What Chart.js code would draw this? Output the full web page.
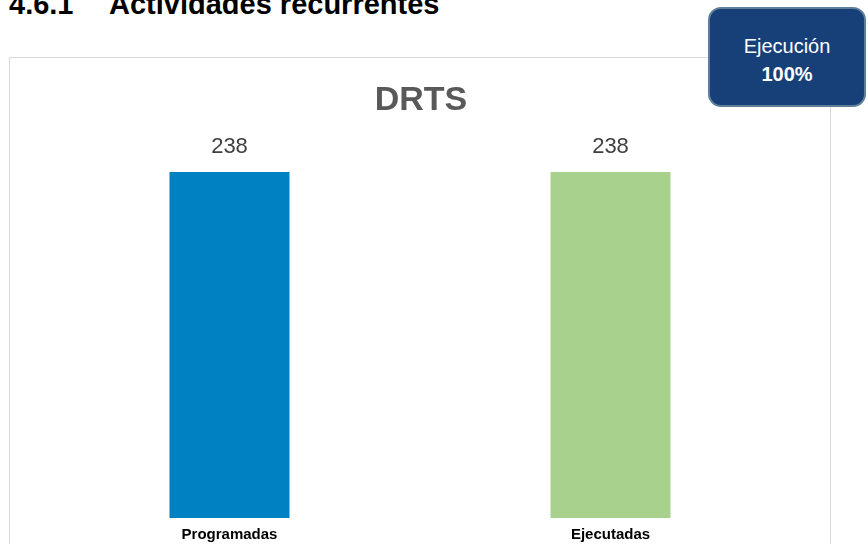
<!DOCTYPE html>
<html>
<head>
<meta charset="utf-8">
<script src="https://cdn.jsdelivr.net/npm/chart.js@4"></script>
<style>
  body { margin:0; background:#fff; width:868px; height:544px; overflow:hidden; position:relative; font-family:"Liberation Sans", Arial, sans-serif; }
  .heading { position:absolute; top:-12px; font-size:29px; font-weight:bold; color:#000; white-space:pre; }
  #box { position:absolute; left:9px; top:57px; width:820px; height:520px; border:1px solid #d9d9d9; }
  #badge { position:absolute; left:708px; top:7px; width:158px; height:100px; background:#173f78; border:2px solid #5d7f99; border-radius:13px; color:#fff; text-align:center; font-size:20px; line-height:28px; box-sizing:border-box; padding-top:23px; }
</style>
</head>
<body>
<div class="heading" style="left:9px">4.6.1</div>
<div class="heading" style="left:109px">Actividades recurrentes</div>
<div id="box"><canvas id="barcanva" width="820" height="520"></canvas></div>
<div id="badge">Ejecución<br><b>100%</b></div>
<script>
const categories = ["Programadas", "Ejecutadas"]
const values = [238, 238]
const colors = ["#0081c1", "#a9d18e"]

const labelsPlugin = {
    id: "labelsPlugin",
    afterDatasetsDraw(chart) {
        const ctx = chart.ctx
        ctx.save()
        // titre
        ctx.fillStyle = "#595959"
        ctx.font = "bold 34px 'Liberation Sans', Arial"
        ctx.textAlign = "center"
        ctx.textBaseline = "middle"
        ctx.fillText("DRTS", 411, 43)
        // valeurs au-dessus des barres
        ctx.fillStyle = "#404040"
        ctx.font = "22px 'Liberation Sans', Arial"
        chart.getDatasetMeta(0).data.forEach((bar, i) => {
            ctx.fillText(values[i], bar.x, bar.y - 25)
        })
        ctx.restore()
    }
}

const canva = document.querySelector("#barcanva")
const barChart = new Chart(canva, {
    type: "bar",
    data: {
        labels: categories,
        datasets: [{
            data: values,
            backgroundColor: colors,
            barPercentage: 0.315,
            categoryPercentage: 1
        }]
    },
    options: {
        responsive: false,
        animation: false,
        layout: { padding: { left: 29, right: 29, top: 114, bottom: 26 } },
        plugins: { legend: { display: false }, tooltip: { enabled: false } },
        scales: {
            x: {
                grid: { display: false, drawTicks: false },
                border: { display: false },
                ticks: { color: "#000", font: { family: "'Liberation Sans', Arial", size: 15, weight: "bold" }, padding: 8 }
            },
            y: { display: false, min: 0, max: 238 }
        }
    },
    plugins: [labelsPlugin]
})
</script>
</body>
</html>
